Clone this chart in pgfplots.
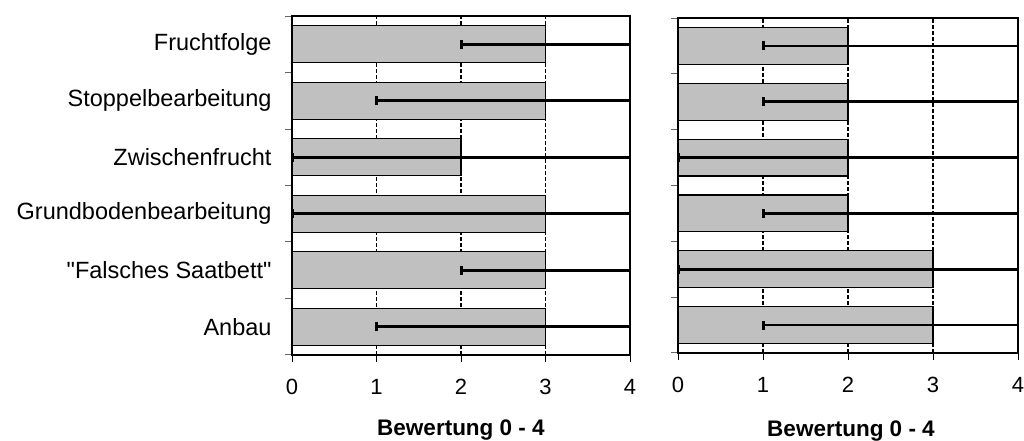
\documentclass[border=0pt]{standalone}
\usepackage{pgfplots}
\pgfplotsset{compat=1.18}
\usepackage{fontspec}
\setmainfont{Liberation Sans}
\newfontfamily\lib{Liberation Sans}
\definecolor{barg}{HTML}{C0C0C0}

\pgfplotsset{
  panel/.style={
    scale only axis, anchor=south west,
    xmin=0, xmax=4, ymin=-0.5, ymax=5.5,
    xtick={0,...,4}, ytick={0,...,5},
    minor ytick={-0.5,0.5,...,5.5},
    tick align=outside, tick pos=left,
    major tick length=7pt, minor tick length=7pt,
    major y tick style={draw=none},
    minor y tick style={draw=gray!80!black, line width=1pt},
    major x tick style={draw=black, line width=1pt},
    xmajorgrids,
    grid style={black, line width=1.1pt, dash pattern=on 4pt off 2pt},
    axis line style={black, line width=1.3pt},
    /pgf/number format/assume math mode=true,
    xticklabel style={font=\lib\fontsize{22}{26}\selectfont, yshift=-14pt},
    yticklabel style={font=\lib\fontsize{23.5}{28}\selectfont, xshift=-10pt},
    xlabel={Bewertung 0 - 4},
    xlabel style={font=\lib\bfseries\fontsize{22.5}{27}\selectfont,
      at={(axis description cs:0.5,0)}, anchor=base},
  },
  bars/.style={xbar, bar width=0.66, fill=barg, draw=black, line width=1.1pt,
    error bars/.cd, x dir=both, x explicit, error mark=|,
    error bar style={line width=2.8pt, black},
    error mark options={line width=3pt, mark size=4.5pt, black}},
}

\begin{document}
\begin{tikzpicture}
\useasboundingbox (0,0) rectangle (1024pt,441pt);
\begin{axis}[panel, at={(292pt,86pt)}, width=338pt, height=339pt,
  yticklabels={Anbau,"Falsches Saatbett",Grundbodenbearbeitung,Zwischenfrucht,Stoppelbearbeitung,Fruchtfolge},
  xlabel style={yshift=-81pt}]
\addplot[bars] coordinates {
  (3,5) += (1,0) -= (1,0)
  (3,4) += (1,0) -= (2,0)
  (2,3) += (2,0) -= (2,0)
  (3,2) += (1,0) -= (3,0)
  (3,1) += (1,0) -= (1,0)
  (3,0) += (1,0) -= (2,0)
};
\end{axis}
\begin{axis}[panel, at={(678pt,88pt)}, width=340pt, height=335pt,
  yticklabels={},
  xlabel style={yshift=-83pt, xshift=3pt}]
\addplot[bars] coordinates {
  (2,5) += (2,0) -= (1,0)
  (2,4) += (2,0) -= (1,0)
  (2,3) += (2,0) -= (2,0)
  (2,2) += (2,0) -= (1,0)
  (3,1) += (1,0) -= (3,0)
  (3,0) += (1,0) -= (2,0)
};
\end{axis}
\end{tikzpicture}
\end{document}
